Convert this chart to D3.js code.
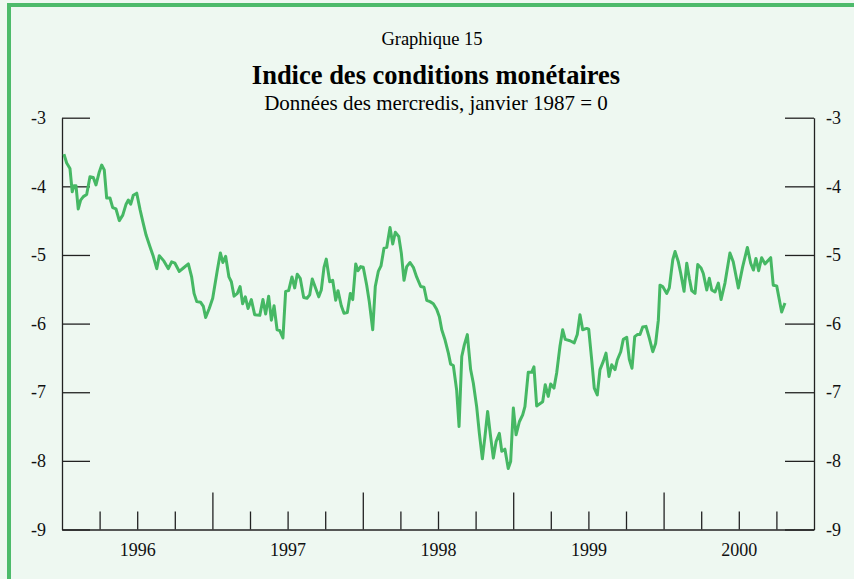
<!DOCTYPE html>
<html>
<head>
<meta charset="utf-8">
<title>Indice des conditions monétaires</title>
<script src="https://d3js.org/d3.v7.min.js"></script>
<style>
body { margin: 0; background: #eef8f1; }
svg { display: block; font-family: "Liberation Serif", "Times New Roman", serif; }
</style>
</head>
<body>
<svg width="854" height="579"></svg>
<script>
var years = [
  1996.013,1996.031,1996.053,1996.068,1996.080,1996.093,1996.108,1996.124,1996.142,1996.164,
  1996.186,1996.208,1996.226,1996.248,1996.264,1996.281,1996.297,1996.319,1996.337,1996.359,
  1996.381,1996.404,1996.426,1996.441,1996.457,1996.474,1996.497,1996.519,1996.537,1996.559,
  1996.585,1996.607,1996.630,1996.647,1996.678,1996.707,1996.729,1996.751,1996.780,1996.807,
  1996.840,1996.862,1996.878,1996.896,1996.922,1996.940,1996.955,1996.979,1997.002,
  1997.011,1997.033,1997.053,1997.070,1997.088,1997.110,1997.126,1997.144,1997.166,1997.184,
  1997.201,1997.219,1997.237,1997.259,1997.281,1997.315,1997.336,1997.354,1997.374,1997.392,
  1997.410,1997.430,1997.447,1997.469,1997.487,1997.507,1997.529,1997.547,1997.564,1997.584,
  1997.607,1997.629,1997.647,1997.664,1997.684,1997.707,1997.724,1997.742,1997.757,1997.780,
  1997.800,1997.820,1997.835,1997.857,1997.875,1997.897,1997.917,1997.933,1997.953,1997.968,
  1997.986,1998.003,
  1998.026,1998.043,1998.066,1998.083,1998.103,1998.121,1998.141,1998.159,1998.181,1998.199,
  1998.216,1998.239,1998.256,1998.274,1998.292,1998.314,1998.336,1998.358,1998.385,1998.407,
  1998.425,1998.447,1998.469,1998.491,1998.509,1998.525,1998.547,1998.569,1998.584,1998.602,
  1998.624,1998.640,1998.658,1998.675,1998.695,1998.717,1998.735,1998.757,1998.775,1998.795,
  1998.812,1998.830,1998.850,1998.868,1998.886,1998.908,1998.924,1998.945,1998.967,1998.983,
  1999.001,
  1999.019,1999.041,1999.063,1999.078,1999.100,1999.123,1999.138,1999.156,1999.196,1999.213,
  1999.233,1999.249,1999.271,1999.289,1999.311,1999.329,1999.346,1999.378,1999.406,1999.426,
  1999.444,1999.462,1999.489,1999.502,1999.522,1999.539,1999.559,1999.577,1999.599,1999.617,
  1999.637,1999.655,1999.677,1999.692,1999.715,1999.732,1999.755,1999.772,1999.790,1999.808,
  1999.825,1999.843,1999.861,1999.883,1999.905,1999.928,1999.947,1999.965,1999.976,
  1999.994,2000.021,2000.038,2000.061,2000.076,2000.098,2000.114,2000.136,2000.154,2000.171,
  2000.187,2000.209,2000.227,2000.249,2000.264,2000.287,2000.304,2000.320,2000.342,2000.364,
  2000.382,2000.408,2000.441,2000.463,2000.497,2000.526,2000.557,2000.579,2000.597,2000.614,
  2000.632,2000.652,2000.674,2000.712,2000.729,2000.752,2000.785,2000.807
];

var values = [
  -3.53,-3.66,-3.74,-4.08,-3.99,-3.99,-4.33,-4.20,-4.15,-4.12,
  -3.86,-3.87,-3.98,-3.79,-3.69,-3.76,-4.17,-4.17,-4.31,-4.33,
  -4.50,-4.42,-4.26,-4.20,-4.26,-4.13,-4.10,-4.34,-4.51,-4.71,
  -4.88,-5.02,-5.20,-5.01,-5.09,-5.20,-5.10,-5.12,-5.24,-5.19,
  -5.13,-5.32,-5.56,-5.68,-5.69,-5.75,-5.91,-5.78,-5.63,
  -5.51,-5.22,-4.97,-5.11,-5.02,-5.32,-5.39,-5.60,-5.56,-5.46,
  -5.71,-5.61,-5.78,-5.65,-5.87,-5.88,-5.65,-5.86,-5.60,-5.95,
  -5.74,-6.09,-6.10,-6.21,-5.53,-5.52,-5.32,-5.48,-5.28,-5.34,
  -5.62,-5.63,-5.58,-5.35,-5.47,-5.61,-5.51,-5.18,-5.06,-5.39,
  -5.37,-5.66,-5.52,-5.74,-5.85,-5.84,-5.56,-5.65,-5.13,-5.23,
  -5.17,-5.18,
  -5.44,-5.68,-6.09,-5.46,-5.24,-5.16,-4.90,-4.89,-4.60,-4.84,
  -4.67,-4.73,-4.97,-5.37,-5.17,-5.11,-5.18,-5.32,-5.46,-5.47,
  -5.66,-5.68,-5.71,-5.79,-5.90,-6.09,-6.24,-6.43,-6.59,-6.61,
  -6.97,-7.50,-6.48,-6.31,-6.16,-6.67,-6.87,-7.21,-7.60,-7.97,
  -7.65,-7.28,-7.65,-7.96,-7.72,-7.60,-7.86,-7.83,-8.11,-8.01,
  -7.23,
  -7.62,-7.43,-7.33,-7.21,-6.71,-6.71,-6.63,-7.20,-7.14,-6.89,
  -7.06,-6.88,-6.94,-6.72,-6.33,-6.09,-6.23,-6.25,-6.28,-6.16,
  -5.87,-6.09,-6.07,-6.08,-6.53,-6.94,-7.04,-6.67,-6.55,-6.43,
  -6.77,-6.60,-6.67,-6.53,-6.41,-6.23,-6.20,-6.52,-6.65,-6.19,
  -6.16,-6.16,-6.05,-6.04,-6.21,-6.41,-6.29,-5.95,-5.44,
  -5.46,-5.56,-5.48,-5.07,-4.95,-5.10,-5.27,-5.53,-5.12,-5.34,
  -5.52,-5.56,-5.14,-5.19,-5.27,-5.51,-5.34,-5.51,-5.54,-5.41,
  -5.65,-5.41,-4.97,-5.10,-5.48,-5.17,-4.89,-5.12,-5.22,-5.05,
  -5.23,-5.04,-5.13,-5.04,-5.44,-5.45,-5.83,-5.70
];

var yTicks = [-3, -4, -5, -6, -7, -8, -9];
var yearLabels = [1996, 1997, 1998, 1999, 2000];
var quarterTicks = [1996.25, 1996.5, 1996.75, 1997.25, 1997.5, 1997.75, 1998.25, 1998.5, 1998.75,
                    1999.25, 1999.5, 1999.75, 2000.25, 2000.5, 2000.75];
var yearTicks = [1997, 1998, 1999, 2000];

var svg = d3.select("svg"),
    plot = {left: 62, right: 814, top: 117.7, bottom: 529.5};

// frame
svg.append("rect")
    .attr("x", 9).attr("y", 5)
    .attr("width", 880).attr("height", 620)
    .attr("fill", "#eef8f1")
    .attr("stroke", "#4dbb6b")
    .attr("stroke-width", 4);

var x = d3.scaleLinear().domain([1996, 2001]).range([plot.left, plot.right]),
    y = d3.scaleLinear().domain([-9, -3]).range([plot.bottom, plot.top]);

function styleAxis(g) {
  g.selectAll("path, line").attr("stroke", "#222").attr("stroke-width", 1.3);
  g.selectAll("text").attr("fill", "#111")
    .attr("font-family", "'Liberation Serif', 'Times New Roman', serif")
    .attr("font-size", 18);
}

var fmt = function(d) { return String(d); };

svg.append("g")
    .attr("transform", "translate(" + plot.left + ",0)")
    .call(d3.axisLeft(y).tickValues(yTicks).tickSize(-28).tickSizeOuter(0).tickPadding(16).tickFormat(fmt))
    .call(styleAxis);

svg.append("g")
    .attr("transform", "translate(" + plot.right + ",0)")
    .call(d3.axisRight(y).tickValues(yTicks).tickSize(-29).tickSizeOuter(0).tickPadding(12).tickFormat(fmt))
    .call(styleAxis);

// bottom: quarter ticks, year ticks, year labels at mid-year
svg.append("g")
    .attr("transform", "translate(0," + plot.bottom + ")")
    .call(d3.axisBottom(x).tickValues(quarterTicks).tickSize(-18).tickSizeOuter(0).tickFormat(""))
    .call(styleAxis);

svg.append("g")
    .attr("transform", "translate(0," + plot.bottom + ")")
    .call(d3.axisBottom(x).tickValues(yearTicks).tickSize(-37).tickSizeOuter(0).tickFormat(""))
    .call(styleAxis)
    .select(".domain").remove();

svg.append("g")
    .attr("transform", "translate(0," + plot.bottom + ")")
    .call(d3.axisBottom(x).tickValues(yearLabels.map(function(d) { return d + 0.5; }))
        .tickSize(0).tickPadding(14)
        .tickFormat(function(d) { return String(Math.floor(d)); }))
    .call(styleAxis)
    .select(".domain").remove();

// series
var line = d3.line()
    .x(function(d, i) { return x(years[i]); })
    .y(function(d) { return y(d); });

svg.append("path")
    .datum(values)
    .attr("fill", "none")
    .attr("stroke", "#46b864")
    .attr("stroke-width", 3)
    .attr("stroke-linejoin", "round")
    .attr("d", line);

// titles
svg.append("text")
    .attr("x", 432).attr("y", 45)
    .attr("text-anchor", "middle")
    .attr("font-size", 18.5)
    .text("Graphique 15");

svg.append("text")
    .attr("x", 436).attr("y", 84)
    .attr("text-anchor", "middle")
    .attr("font-size", 26.5)
    .attr("font-weight", "bold")
    .text("Indice des conditions monétaires");

svg.append("text")
    .attr("x", 436).attr("y", 110)
    .attr("text-anchor", "middle")
    .attr("font-size", 21)
    .text("Données des mercredis, janvier 1987 = 0");
</script>
</body>
</html>
